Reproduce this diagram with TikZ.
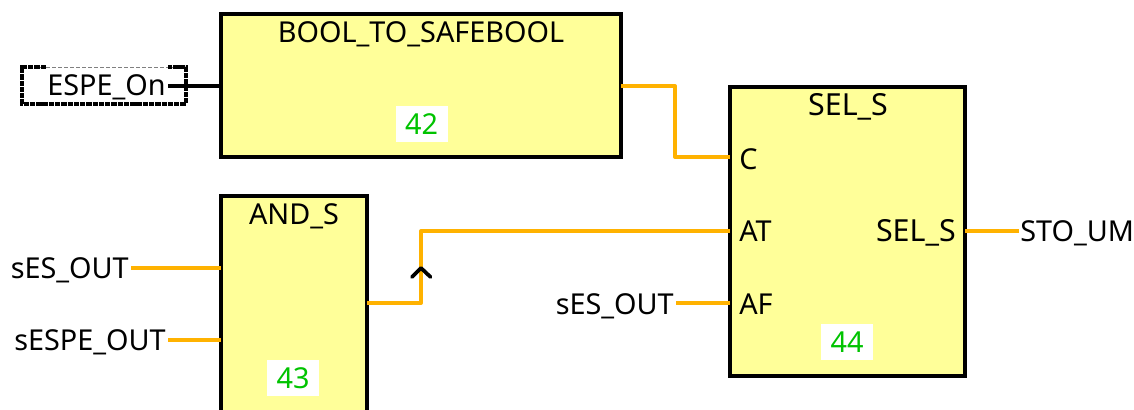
\documentclass[tikz,border=0pt]{standalone}
\usepackage{fontspec}
\setmainfont{Noto Sans}
\definecolor{blockfill}{RGB}{255,255,153}
\definecolor{wire}{RGB}{255,178,0}
\definecolor{idgreen}{RGB}{0,195,0}
\tikzset{
  block/.style={draw=black,line width=3.2pt,fill=blockfill,inner sep=0pt,outer sep=0pt,anchor=north west},
  txt/.style={font=\fontsize{21.6}{25}\selectfont,inner sep=0pt,text=black,text height=16pt,text depth=4.5pt},
  widetxt/.style={txt,font=\fontsize{22.8}{25}\selectfont},
  idbox/.style={fill=white,text=idgreen,font=\fontsize{21.6}{25}\selectfont,inner sep=0pt,minimum height=27pt,minimum width=39pt},
  sigwire/.style={draw=wire,line width=3pt,line join=round},
  blackwire/.style={draw=black,line width=3pt},
  caret/.style={draw=black,line width=2.8pt,line cap=round,line join=round}
}
\begin{document}
\begin{tikzpicture}[x=0.75pt,y=-0.75pt]
\path[use as bounding box,clip] (0,0) rectangle (1134,410);
\fill[white] (0,0) rectangle (1134,410);
% blocks
\node[block,minimum width=300pt,minimum height=107.25pt] (bts) at (221,14) {};
\node[block,minimum width=109.5pt,minimum height=200pt] (ands) at (221,196) {};
\node[block,minimum width=176.25pt,minimum height=216.75pt] (sels) at (730,87) {};
% block titles
\node[txt] (btsT) at (421,35) {BOOL\_TO\_SAFEBOOL};
\node[txt] (andsT) at (294,217) {AND\_S};
\node[widetxt] (selsT) at (848,108) {SEL\_S};
% ids
\node[idbox] (id42) at (421.5,124) {42};
\node[idbox] (id43) at (293,378) {43};
\node[idbox] (id44) at (847,342) {44};
% ports
\node[txt,anchor=west] (pC) at (739,162) {C};
\node[txt,anchor=west] (pAT) at (739,234) {AT};
\node[txt,anchor=west] (pAF) at (739,307) {AF};
\node[widetxt,anchor=east] (pOut) at (956,234) {SEL\_S};
% variable box
\coordinate (bTL) at (22,67);
\coordinate (bTR) at (186,67);
\coordinate (bBL) at (22,104);
\coordinate (bBR) at (186,104);
\draw[gray,line width=.7pt,dash pattern=on 3pt off 1.5pt] (bTL) -- (bTR);
\draw[black,line width=2.4pt,dash pattern=on 4pt off .7pt] (46,67) -| (bBL) -- (bBR) |- (168,67);
\node[txt,anchor=east] (espe) at (166,88) {ESPE\_On};
% outside labels
\node[txt,anchor=east] (ses1) at (129,271) {sES\_OUT};
\node[txt,anchor=east] (sespe) at (166,343) {sESPE\_OUT};
\node[txt,anchor=east] (ses2) at (674,307) {sES\_OUT};
\node[txt,anchor=west] (sto) at (1020,234) {STO\_UM};
% connector end points
\coordinate (espeEnd) at (168,86);
\coordinate (bIn) at (221,86);
\coordinate (bOut) at (621,86);
\coordinate (cIn) at (730,157);
\coordinate (aOut) at (367,303);
\coordinate (atIn) at (730,231);
\coordinate (afIn) at (730,303);
\coordinate (aIn1) at (221,268);
\coordinate (aIn2) at (221,340);
\coordinate (sOut) at (965,231);
\coordinate (ses1End) at (131,268);
\coordinate (sespeEnd) at (168,340);
\coordinate (ses2End) at (676,303);
\coordinate (stoEnd) at (1019,231);
\coordinate (midA) at (675,86);
\coordinate (midB) at (675,157);
\coordinate (midC) at (421,303);
\coordinate (midD) at (421,231);
\coordinate (caretL) at (412,277);
\coordinate (caretT) at (421,268);
\coordinate (caretR) at (430.5,277);
% connectors
\draw[blackwire] (espeEnd) -- (bIn);
\draw[sigwire] (bOut) -- (midA) -- (midB) -- (cIn);
\draw[sigwire] (aOut) -- (midC) -- (midD) -- (atIn);
\draw[sigwire] (ses1End) -- (aIn1);
\draw[sigwire] (sespeEnd) -- (aIn2);
\draw[sigwire] (ses2End) -- (afIn);
\draw[sigwire] (sOut) -- (stoEnd);
\draw[caret] (caretL) -- (caretT) -- (caretR);
\end{tikzpicture}
\end{document}
